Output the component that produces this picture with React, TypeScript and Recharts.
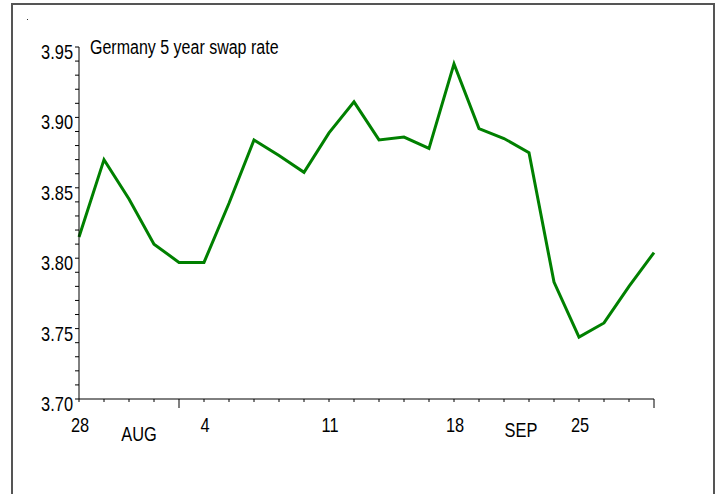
import React from 'react';
import { LineChart, Line, XAxis, YAxis } from 'recharts';

// business days, Aug 28 - Sep 28
const dates = [
  'Aug 28', 'Aug 29', 'Aug 30', 'Aug 31', 'Sep 1',
  'Sep 4', 'Sep 5', 'Sep 6', 'Sep 7', 'Sep 8',
  'Sep 11', 'Sep 12', 'Sep 13', 'Sep 14', 'Sep 15',
  'Sep 18', 'Sep 19', 'Sep 20', 'Sep 21', 'Sep 22',
  'Sep 25', 'Sep 26', 'Sep 27', 'Sep 28',
];

const swapRate = [
  3.815, 3.870, 3.842, 3.810, 3.797,
  3.797, 3.839, 3.884, 3.873, 3.861,
  3.889, 3.911, 3.884, 3.886, 3.878,
  3.938, 3.892, 3.885, 3.875, 3.783,
  3.744, 3.754, 3.780, 3.804,
];

const dayLabels = [
  '28', '', '', '', '',
  '4', '', '', '', '',
  '11', '', '', '', '',
  '18', '', '', '', '',
  '25', '', '', '',
];

const majorTicks = [4, 23];
const monthLabels = [
  { index: 2, text: 'AUG' },
  { index: 18, text: 'SEP' },
];

const yTicks = [
  3.70, 3.71, 3.72, 3.73, 3.74, 3.75, 3.76, 3.77, 3.78, 3.79,
  3.80, 3.81, 3.82, 3.83, 3.84, 3.85, 3.86, 3.87, 3.88, 3.89,
  3.90, 3.91, 3.92, 3.93, 3.94, 3.95,
];
const yLabels = ['3.70', '3.75', '3.80', '3.85', '3.90', '3.95'];

const FONT = '"Liberation Sans", Arial, sans-serif';
const NARROW = 0.82;

const data = dates.map((date, i) => ({ date, rate: swapRate[i] }));

const NarrowText = ({ x, y, anchor, children }: any) => (
  <text
    transform={`translate(${x},${y}) scale(${NARROW},1)`}
    textAnchor={anchor}
    fontFamily={FONT}
    fontSize={20}
    fill="#000"
  >
    {children}
  </text>
);

const XTick = (props: any) => {
  const { x, y, payload } = props;
  const idx = payload.index;
  const len = majorTicks.includes(idx) ? 9 : 3;
  const month = monthLabels.find((m) => m.index === idx);
  return (
    <g>
      <line x1={x} y1={y} x2={x} y2={y + len} stroke="#000" strokeWidth={1} />
      {dayLabels[idx] ? (
        <NarrowText x={x + 1} y={y + 33} anchor="middle">{dayLabels[idx]}</NarrowText>
      ) : null}
      {month ? (
        <NarrowText x={x + (month.index < 10 ? 10 : -8)} y={y + (month.index < 10 ? 42 : 38)} anchor="middle">
          {month.text}
        </NarrowText>
      ) : null}
    </g>
  );
};

const YTick = (props: any) => {
  const { x, y, payload } = props;
  const label = yLabels.find((l) => Math.abs(parseFloat(l) - payload.value) < 1e-6);
  return (
    <g>
      <line x1={x - 4} y1={y} x2={x} y2={y} stroke="#000" strokeWidth={1} />
      {label ? (
        <NarrowText x={x - 6} y={y + 12} anchor="end">{label}</NarrowText>
      ) : null}
    </g>
  );
};

export default function App() {
  return (
    <div style={{ position: 'absolute', left: 0, top: 0, width: 722, height: 494, overflow: 'hidden', background: '#fff' }}>
      <div
        style={{
          position: 'absolute',
          left: 11,
          top: 3,
          width: 700,
          height: 520,
          border: '2px solid #555',
        }}
      />
      <div style={{ position: 'absolute', left: 27, top: 19, width: 1, height: 1, background: '#333' }} />
      <div
        style={{
          position: 'absolute',
          left: 90,
          top: 36,
          fontFamily: FONT,
          fontSize: 20,
          color: '#000',
          transform: 'scaleX(0.8)',
          transformOrigin: 'left top',
          whiteSpace: 'nowrap',
        }}
      >
        Germany 5 year swap rate
      </div>
      <LineChart
        width={722}
        height={494}
        data={data}
        margin={{ top: 47, right: 68, bottom: 65, left: 0 }}
        style={{ position: 'absolute', left: 0, top: 0 }}
      >
        <XAxis
          dataKey="date"
          interval={0}
          height={30}
          tickSize={0}
          tickMargin={0}
          tickLine={false}
          axisLine={{ stroke: '#000', strokeWidth: 1 }}
          tick={<XTick />}
          padding={{ left: 0, right: 0 }}
        />
        <YAxis
          type="number"
          domain={[3.7, 3.95]}
          ticks={yTicks}
          interval={0}
          width={79}
          tickSize={0}
          tickMargin={0}
          tickLine={false}
          axisLine={{ stroke: '#000', strokeWidth: 1 }}
          tick={<YTick />}
          allowDataOverflow
        />
        <Line
          type="linear"
          dataKey="rate"
          stroke="#008000"
          strokeWidth={3}
          dot={false}
          activeDot={false}
          isAnimationActive={false}
        />
      </LineChart>
    </div>
  );
}
